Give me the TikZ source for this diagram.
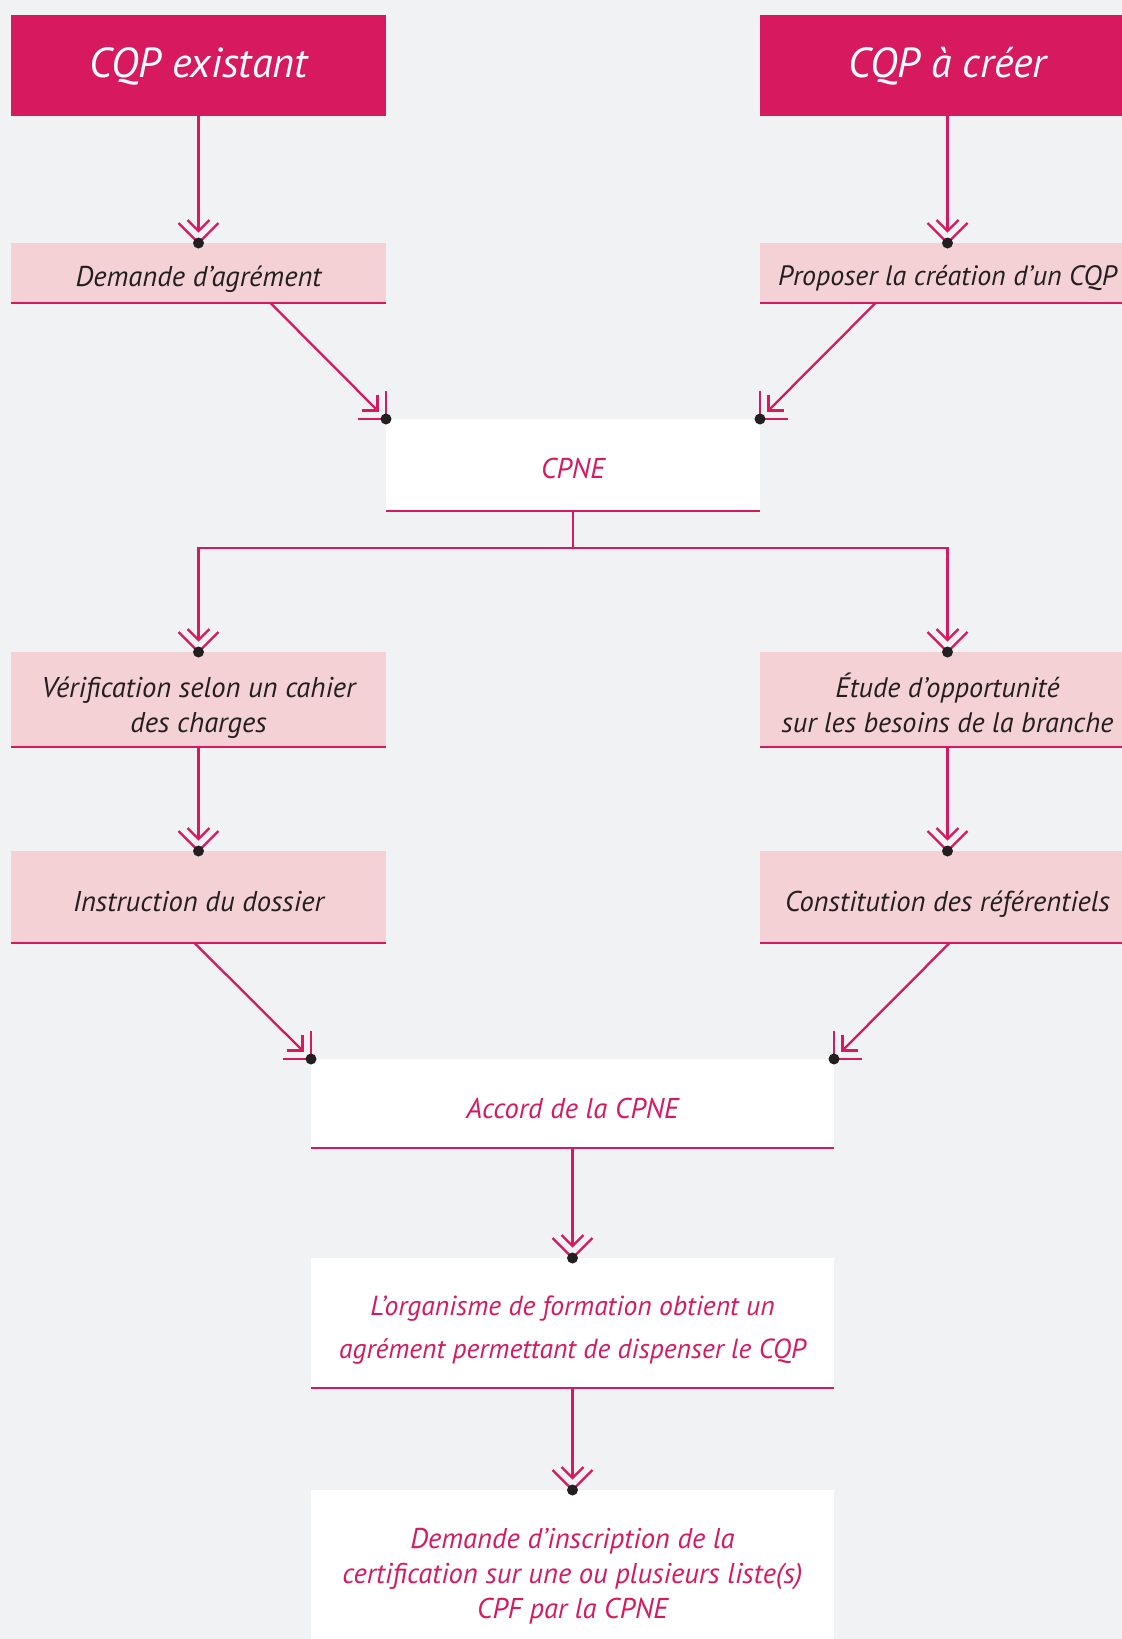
\documentclass[tikz,border=0pt]{standalone}
\usepackage{fontspec}
\setmainfont{PT Sans}
\usetikzlibrary{calc}
\definecolor{mag}{RGB}{215,25,96}
\definecolor{pinkbg}{RGB}{244,209,212}
\definecolor{bgc}{RGB}{241,242,244}
\definecolor{ink}{RGB}{35,31,32}
\tikzset{
  dh/.pic={
    \draw[mag, line width=2.3pt] (-20,-20) -- (0,0) -- (20,-20);
    \draw[mag, line width=2.3pt] (-11,-23) -- (0,-12) -- (11,-23);
    \fill[ink] (0,0) circle (5.5);
  }
}
\begin{document}
\begin{tikzpicture}[x=1pt,y=-1pt,
  every node/.style={inner sep=0pt, outer sep=0pt},
  boxbase/.style={anchor=north west},
  head/.style={boxbase, fill=mag, minimum width=375pt, minimum height=101pt},
  pbox/.style={boxbase, fill=pinkbg, minimum width=375pt},
  wbox/.style={boxbase, fill=white},
  htxt/.style={anchor=center, align=center, text=white, font=\itshape\fontsize{42}{50}\selectfont},
  ptxt/.style={anchor=center, align=center, text=ink, font=\itshape\fontsize{28.6}{35}\selectfont},
  wtxt/.style={anchor=center, align=center, text=mag, font=\itshape\fontsize{28.6}{35}\selectfont},
  link/.style={draw=mag, line width=2.3pt, shorten >=12pt},
  border/.style={draw=mag, line width=2.5pt},
]
\fill[bgc] (0,0) rectangle (1122,1639);
\useasboundingbox (0,0) rectangle (1122,1639);

% boxes
\node[head] (h1) at (11,15) {};
\node[head] (h2) at (760,15) {};
\node[pbox, minimum height=60pt] (d1) at (11,243) {};
\node[pbox, minimum height=60pt] (d2) at (760,243) {};
\node[wbox, minimum width=374pt, minimum height=92pt] (cpne) at (386,419) {};
\node[pbox, minimum height=95pt] (v1) at (11,652) {};
\node[pbox, minimum height=95pt] (v2) at (760,652) {};
\node[pbox, minimum height=92pt] (i1) at (11,851) {};
\node[pbox, minimum height=92pt] (i2) at (760,851) {};
\node[wbox, minimum width=523pt, minimum height=89pt] (acc) at (311,1059) {};
\node[wbox, minimum width=523pt, minimum height=130pt] (org) at (311,1258) {};
\node[wbox, minimum width=523pt, minimum height=166pt] (dem) at (311,1490) {};

% texts
\node[htxt] (h1t) at ($(h1.center)+(0,1)$) {CQP existant};
\node[htxt] (h2t) at ($(h2.center)+(0,1)$) {CQP à créer};
\node[ptxt] (d1t) at ($(d1.center)+(0,6)$) {Demande d’agrément};
\node[ptxt, font=\itshape\fontsize{28}{35}\selectfont] (d2t) at ($(d2.center)+(0,5)$) {Proposer la création d’un CQP};
\node[wtxt] (cpnet) at ($(cpne.center)+(0,3)$) {CPNE};
\node[ptxt] (v1t) at ($(v1.center)+(0,8)$) {Vérification selon un cahier\\des charges};
\node[ptxt, font=\itshape\fontsize{28.2}{35}\selectfont] (v2t) at ($(v2.center)+(0,3)$) {Étude d’opportunité\\sur les besoins de la branche};
\node[ptxt] (i1t) at ($(i1.center)+(0,5)$) {Instruction du dossier};
\node[ptxt] (i2t) at ($(i2.center)+(0,7)$) {Constitution des référentiels};
\node[wtxt] (acct) at ($(acc.center)+(0,5)$) {Accord de la CPNE};
\node[wtxt, font=\itshape\fontsize{27.6}{43}\selectfont] (orgt) at ($(org.center)+(0,7)$) {L’organisme de formation obtient un\\agrément permettant de dispenser le CQP};
\node[wtxt] (demt) at ($(dem.center)+(0,3)$) {Demande d’inscription de la\\certification sur une ou plusieurs liste(s)\\CPF par la CPNE};

\foreach \n in {d1,d2,cpne,v1,v2,i1,i2,acc,org}
  \draw[border] (\n.south west) -- (\n.south east);

% connectors
\draw[link] (h1.south) -- (d1.north);
\pic at (d1.north) {dh};
\draw[link] (h2.south) -- (d2.north);
\pic at (d2.north) {dh};

\draw[link] ($(d1.south)+(72,0)$) -- (cpne.north west);
\pic[rotate=45] at (cpne.north west) {dh};
\draw[link] ($(d2.south)+(-72,0)$) -- (cpne.north east);
\pic[rotate=-45] at (cpne.north east) {dh};

\draw[link] (cpne.south) -- ++(0,37) -| (v1.north);
\pic at (v1.north) {dh};
\draw[link] (cpne.south) -- ++(0,37) -| (v2.north);
\pic at (v2.north) {dh};

\draw[link] (v1.south) -- (i1.north);
\pic at (i1.north) {dh};
\draw[link] (v2.south) -- (i2.north);
\pic at (i2.north) {dh};

\draw[link] ($(i1.south)+(-4,0)$) -- (acc.north west);
\pic[rotate=45] at (acc.north west) {dh};
\draw[link] ($(i2.south)+(2,0)$) -- (acc.north east);
\pic[rotate=-45] at (acc.north east) {dh};

\draw[link] (acc.south) -- (org.north);
\pic at (org.north) {dh};
\draw[link] (org.south) -- (dem.north);
\pic at (dem.north) {dh};
\end{tikzpicture}
\end{document}
